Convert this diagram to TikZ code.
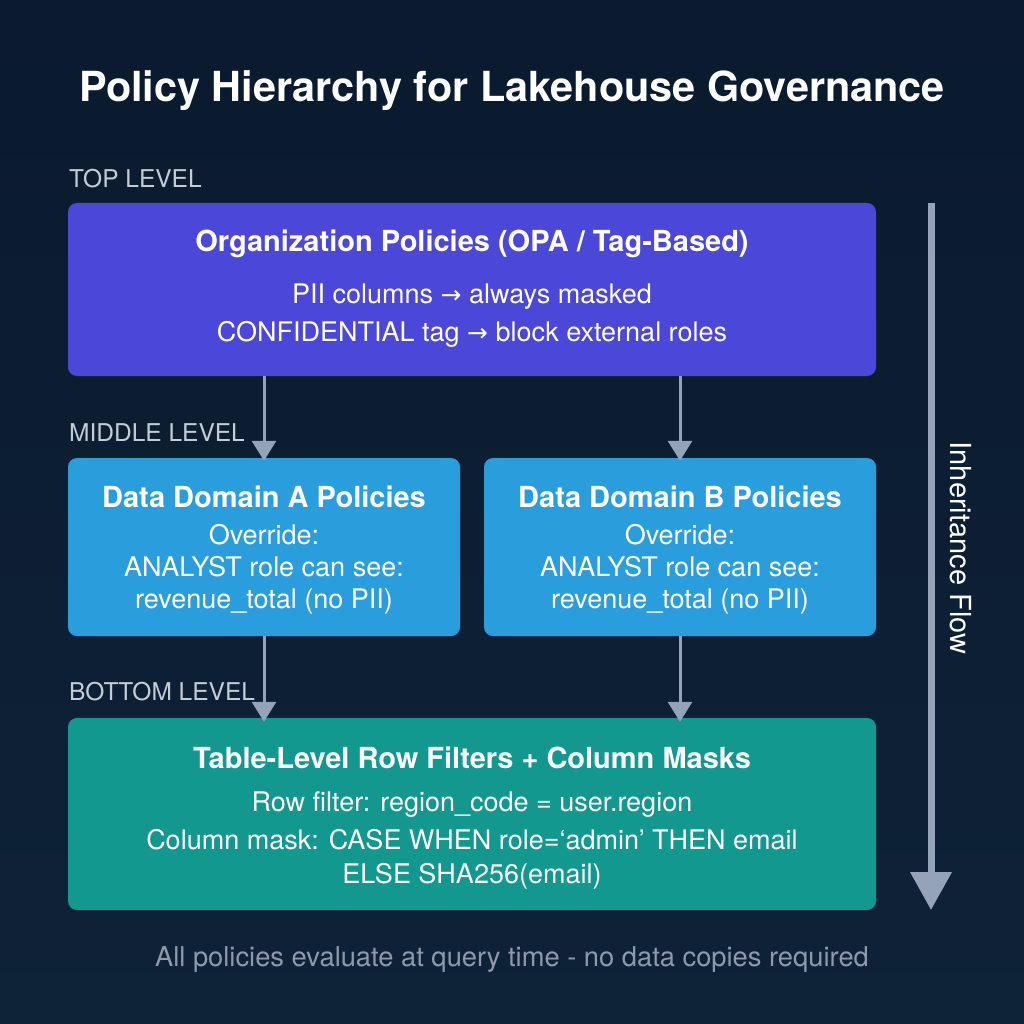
\documentclass[tikz,border=0pt]{standalone}
\usepackage{fontspec}
\setmainfont{TeX Gyre Heros}
\newfontfamily\arrfont{DejaVu Sans}
\usetikzlibrary{arrows.meta,positioning,calc}
\definecolor{bgtop}{HTML}{0B1A2E}
\definecolor{bgbot}{HTML}{0E2238}
\definecolor{topbox}{HTML}{4B47D8}
\definecolor{midbox}{HTML}{2A9EDD}
\definecolor{botbox}{HTML}{12988F}
\definecolor{arrowgray}{HTML}{94A3B8}
\definecolor{lvlgray}{HTML}{C3CDD8}
\definecolor{notegray}{HTML}{8E9AAB}
\newcommand{\ra}{{\arrfont\fontsize{25}{30}\selectfont\char"2192}}
\tikzset{
  box/.style={rounded corners=9pt, inner sep=0pt},
  boxtitle/.style={text=white, font=\fontsize{29}{34}\selectfont\bfseries, inner sep=0pt},
  boxtext/.style={text=white, font=\fontsize{27}{32}\selectfont, inner sep=0pt, align=center},
  lvl/.style={text=lvlgray, font=\fontsize{24.5}{30}\selectfont, inner sep=0pt, anchor=west},
  conn/.style={draw=arrowgray, line width=3pt, -{Triangle[length=20pt,width=24pt]}},
}
\begin{document}
\begin{tikzpicture}[x=1pt,y=-1pt]
\useasboundingbox (0,0) rectangle (1024,1024);
\shade[top color=bgtop, bottom color=bgbot] (0,0) rectangle (1024,1024);

\node[text=white, font=\fontsize{41.4}{48}\selectfont\bfseries, inner sep=0pt] (title) at (512,91) {Policy Hierarchy for Lakehouse Governance};

\node[lvl] (ltop) at (69,179) {TOP LEVEL};
\node[lvl] (lmid) at (69,433) {MIDDLE LEVEL};
\node[lvl] (lbot) at (69,692) {BOTTOM LEVEL};

\node[box, fill=topbox, minimum width=808pt, minimum height=173pt] (top) at (472,289.5) {};
\node[boxtitle] (toptitle) at (472,244) {Organization Policies (OPA / Tag-Based)};
\node[boxtext] (topl1) at (472,297) {PII columns \ra{} always masked};
\node[boxtext] (topl2) at (472,334) {CONFIDENTIAL tag \ra{} block external roles};

\node[box, fill=midbox, minimum width=392pt, minimum height=178pt] (mida) at (264,547) {};
\node[boxtitle] (midatitle) at (264,497) {Data Domain A Policies};
\node[boxtext] (midatext) at (264,569) {Override:\\ANALYST role can see:\\revenue\_total (no PII)};

\node[box, fill=midbox, minimum width=392pt, minimum height=178pt] (midb) at (680,547) {};
\node[boxtitle] (midbtitle) at (680,497) {Data Domain B Policies};
\node[boxtext] (midbtext) at (680,569) {Override:\\ANALYST role can see:\\revenue\_total (no PII)};

\node[box, fill=botbox, minimum width=808pt, minimum height=192pt] (bot) at (472,814) {};
\node[boxtitle] (bottitle) at (472,758) {Table-Level Row Filters + Column Masks};
\node[boxtext] (botl1) at (472,805) {Row filter: region\_code = user.region};
\node[boxtext, font=\fontsize{27}{34}\selectfont] (botl2) at (472,859) {Column mask: CASE WHEN role=‘admin’ THEN email\\ELSE SHA256(email)};

\node[text=notegray, font=\fontsize{27.3}{32}\selectfont, inner sep=0pt] (note) at (512,960) {All policies evaluate at query time - no data copies required};

\draw[conn] (top.south -| mida.north) -- ([yshift=-3pt]mida.north);
\draw[conn] (top.south -| midb.north) -- ([yshift=-3pt]midb.north);
\draw[conn] (mida.south) -- ([yshift=-4pt]bot.north -| mida.south);
\draw[conn] (midb.south) -- ([yshift=-4pt]bot.north -| midb.south);

\coordinate (flowstart) at (931,203);
\coordinate (flowend) at (931,910);
\draw[draw=arrowgray, line width=7pt, -{Triangle[length=38pt,width=40pt]}] (flowstart) -- (flowend);
\node[text=white, font=\fontsize{29}{34}\selectfont, inner sep=0pt, rotate=-90] (flowlabel) at (961,548) {Inheritance Flow};
\end{tikzpicture}
\end{document}
